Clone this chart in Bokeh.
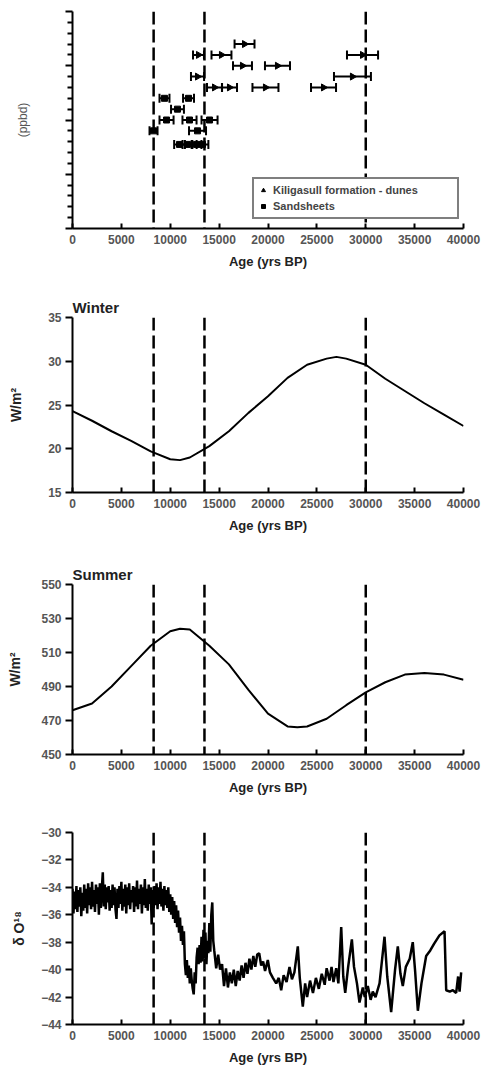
import math
from bokeh.plotting import figure
from bokeh.layouts import column
from bokeh.models import (Range1d, FixedTicker, Span, Whisker, TeeHead, ColumnDataSource,
                          Legend, LegendItem, CustomJSTickFormatter, Title)
from bokeh.embed import file_html
from bokeh.resources import INLINE

# ---------------- data ----------------
x_ticks = [0, 5000, 10000, 15000, 20000, 25000, 30000, 35000, 40000]
event_ages = [8300, 13500, 30000]

dune_age = [12890, 15240, 17600, 17390, 20970, 12790, 14530, 16060, 19740, 25680, 29670, 28640]
dune_err = [560, 1020, 1020, 970, 1280, 670, 770, 770, 1330, 1280, 1590, 1890]
dune_level = [16, 16, 17, 15, 15, 14, 13, 13, 13, 13, 16, 14]

sand_age = [9410, 11870, 10740, 9620, 11970, 14020, 8290, 12790, 10950, 11760, 12690, 13300]
sand_err = [510, 560, 660, 720, 720, 820, 410, 870, 550, 500, 500, 600]
sand_level = [12, 12, 11, 10, 10, 10, 9, 9, 7.75, 7.75, 7.75, 7.75]

winter_age = [0, 2000, 4000, 6000, 8000, 10000, 11000, 12000, 14000, 16000, 18000, 20000,
              22000, 24000, 26000, 27000, 28000, 30000, 32000, 34000, 36000, 38000, 40000]
winter_wm2 = [24.3, 23.2, 22.0, 20.9, 19.7, 18.8, 18.7, 19.0, 20.3, 22.0, 24.1, 26.0,
              28.1, 29.6, 30.3, 30.5, 30.3, 29.6, 28.0, 26.6, 25.2, 23.9, 22.6]

summer_age = [0, 2000, 4000, 6000, 8000, 10000, 11000, 12000, 14000, 16000, 18000, 20000,
              22000, 23000, 24000, 26000, 28000, 30000, 32000, 34000, 36000, 38000, 40000]
summer_wm2 = [476, 480, 490, 502, 514, 522.5, 524, 523.5, 514, 503, 488, 474,
              466.5, 466, 466.5, 471, 479, 486.5, 492.5, 497, 498, 497, 494]

d18o_age = [0, 100, 200, 300, 400, 500, 600, 700, 800, 900, 1000, 1100, 1200, 1300, 1400,
            1500, 1600, 1700, 1800, 1900, 2000, 2100, 2200, 2300, 2400, 2500, 2600, 2700,
            2800, 2900, 3000, 3100, 3200, 3300, 3400, 3500, 3600, 3700, 3800, 3900, 4000,
            4100, 4200, 4300, 4400, 4500, 4600, 4700, 4800, 4900, 5000, 5100, 5200, 5300,
            5400, 5500, 5600, 5700, 5800, 5900, 6000, 6100, 6200, 6300, 6400, 6500, 6600,
            6700, 6800, 6900, 7000, 7100, 7200, 7300, 7400, 7500, 7600, 7700, 7800, 7900,
            8000, 8100, 8200, 8300, 8400, 8500, 8600, 8700, 8800, 8900, 9000, 9100, 9200,
            9300, 9400, 9500, 9600, 9700, 9800, 9900, 10000, 10100, 10200, 10300, 10400,
            10500, 10600, 10700, 10800, 10900, 11000, 11100, 11200, 11300, 11400, 11500,
            11600, 11700, 11800, 11900, 12000, 12100, 12200, 12300, 12400, 12500, 12600,
            12700, 12800, 12900, 13000, 13100, 13200, 13300, 13400, 13500, 13600, 13700,
            13800, 13900, 14000, 14100, 14200, 14300, 14400, 14500,
            14700, 14900, 15100, 15300, 15500, 15700, 15900, 16100, 16300, 16500, 16700,
            16900, 17100, 17300, 17500, 17700, 17900, 18100, 18300, 18500, 18700, 18900,
            19100, 19300, 19500, 19700, 19980, 20200, 20500, 20840, 21100, 21350, 21600,
            21900, 22200, 22450, 22700, 23050, 23250, 23560, 23800, 24000, 24300, 24600,
            24900, 25200, 25500, 25800, 26000, 26300, 26500, 26700, 26980, 27200, 27490,
            27700, 27900, 28200, 28580, 28800, 29100, 29360, 29700, 29900, 30210, 30500,
            30720, 31000, 31410, 31920, 32200, 32600, 33000, 33280, 33550, 33790, 34100,
            34500, 34810, 35050, 35330, 35700, 36180, 36600, 37000, 37540, 38060, 38230,
            38600, 38910, 39250, 39450, 39600, 39760]
d18o_val = [-34.1, -35.9, -34.3, -35.6, -33.9, -35.8, -34.2, -35.4, -34.0, -36.1, -34.4,
            -35.7, -33.8, -35.5, -34.1, -35.9, -33.7, -35.3, -34.0, -35.6, -33.6, -35.4,
            -34.2, -35.8, -33.8, -35.2, -34.0, -36.0, -33.7, -35.5, -34.1, -32.9, -35.4,
            -33.8, -35.6, -34.0, -35.1, -33.9, -35.7, -34.2, -35.5, -33.8, -35.3, -34.0,
            -35.6, -36.3, -34.1, -35.5, -33.9, -35.2, -33.6, -35.7, -34.1, -35.4, -33.8,
            -35.9, -34.0, -35.3, -33.7, -35.6, -34.2, -35.1, -33.9, -35.8, -34.0, -35.4,
            -33.5, -35.6, -34.1, -35.2, -33.8, -35.9, -34.0, -35.3, -33.4, -35.5, -34.1,
            -35.7, -33.8, -35.2, -34.0, -36.7, -34.2, -35.5, -33.9, -35.3, -33.7, -35.6,
            -34.0, -35.2, -33.6, -35.4, -34.1, -35.7, -33.9, -35.3, -34.2, -35.5, -34.0,
            -35.8, -34.5, -36.0, -34.7, -36.3, -35.0, -36.6, -35.3, -36.9, -35.7, -37.3,
            -36.2, -37.9, -36.8, -38.2, -37.2, -39.6, -40.4, -39.3, -40.6, -39.7, -41.0,
            -39.9, -40.8, -41.4, -41.8, -40.2, -41.0, -39.1, -38.4, -39.6, -38.2, -39.5,
            -37.6, -39.4, -37.1, -39.2, -37.3, -39.6, -37.9, -38.8, -36.6, -38.7, -36.0,
            -35.1, -37.9, -38.6,
            -39.9, -38.9, -40.0, -39.6, -41.2, -39.9, -41.3, -40.2, -41.0, -40.0, -41.2,
            -40.1, -40.8, -39.7, -40.6, -39.5, -40.3, -39.2, -40.0, -39.0, -39.8, -38.9,
            -38.8, -39.7, -39.4, -40.1, -39.3, -40.2, -40.6, -41.0, -40.6, -41.5, -40.4,
            -40.9, -39.8, -40.7, -40.2, -38.3, -40.6, -42.7, -41.0, -42.0, -40.8, -41.7,
            -40.6, -41.4, -40.3, -41.1, -39.9, -40.8, -39.8, -40.9, -39.9, -41.0, -36.9,
            -40.5, -41.7, -39.8, -37.8, -39.8, -41.0, -42.4, -41.3, -42.0, -41.2, -42.2,
            -41.6, -42.0, -41.0, -37.6, -40.5, -43.1, -40.0, -38.3, -40.3, -41.2, -39.8,
            -39.2, -38.0, -40.1, -43.0, -41.0, -39.0, -38.6, -38.1, -37.5, -37.2, -41.5,
            -41.6, -41.5, -41.7, -40.5, -41.6, -40.2]

dates_ticks = [0, 5, 10, 15, 20]
dates_minor = [1, 2, 3, 4, 6, 7, 8, 9, 11, 12, 13, 14, 16, 17, 18, 19]
winter_ticks = [15, 20, 25, 30, 35]
summer_ticks = [450, 470, 490, 510, 530, 550]
d18o_ticks = [-44, -42, -40, -38, -36, -34, -32, -30]

FONT = "Liberation Sans"


def make_fig(ylo, yhi, yticks, ylabel, frame_h, top, bottom, lstand, title=None, minor=None):
    f = figure(frame_width=391, frame_height=frame_h,
               x_range=Range1d(0, 40000), y_range=Range1d(ylo, yhi),
               output_backend="svg", toolbar_location=None,
               min_border_left=72, min_border_right=28,
               min_border_top=top, min_border_bottom=bottom)
    if title is not None:
        f.title = Title(text=title, align="left", text_font=FONT, text_font_size="15px",
                        text_font_style="bold", text_color="#222222", standoff=3)
    else:
        f.title.visible = False
    f.outline_line_color = None
    f.xgrid.visible = False
    f.ygrid.visible = False
    f.background_fill_color = "white"
    f.border_fill_color = "white"

    xa = f.xaxis[0]
    xa.ticker = FixedTicker(ticks=x_ticks)
    xa.axis_label = "Age (yrs BP)"
    xa.axis_line_width = 2
    xa.major_tick_line_width = 2
    xa.major_tick_in = 5
    xa.major_tick_out = 0
    xa.minor_tick_line_color = None
    xa.major_label_standoff = 6
    xa.major_label_text_font = FONT
    xa.major_label_text_font_size = "12px"
    xa.major_label_text_font_style = "bold"
    xa.major_label_text_color = "#555555"
    xa.axis_label_standoff = 7
    xa.axis_label_text_font = FONT
    xa.axis_label_text_font_size = "13px"
    xa.axis_label_text_font_style = "bold"
    xa.axis_label_text_color = "#222222"

    ya = f.yaxis[0]
    if minor is not None:
        ya.ticker = FixedTicker(ticks=yticks, minor_ticks=minor)
        ya.formatter = CustomJSTickFormatter(code="return ''")
        ya.minor_tick_line_width = 2
        ya.minor_tick_out = 5
        ya.minor_tick_in = 0
    else:
        ya.ticker = FixedTicker(ticks=yticks)
        ya.minor_tick_line_color = None
    ya.axis_label = ylabel
    ya.axis_line_width = 2
    ya.major_tick_line_width = 2
    ya.major_tick_out = 7
    ya.major_tick_in = 0
    ya.major_label_standoff = 4
    ya.major_label_text_font = FONT
    ya.major_label_text_font_size = "12px"
    ya.major_label_text_font_style = "bold"
    ya.major_label_text_color = "#555555"
    ya.axis_label_standoff = lstand
    ya.axis_label_text_font = FONT
    if minor is not None:
        ya.axis_label_text_font_size = "12px"
        ya.axis_label_text_font_style = "normal"
        ya.axis_label_text_color = "#555555"
    else:
        ya.axis_label_text_font_size = "14px"
        ya.axis_label_text_font_style = "bold"
        ya.axis_label_text_color = "#222222"

    for a in event_ages:
        f.add_layout(Span(location=a, dimension="height", line_color="black",
                          line_width=2.5, line_dash="13 5"))
    return f


# ---- panel 1: dates ----
p1 = make_fig(0, 20, dates_ticks, "(ppbd)", 217, 11, 55, 36, minor=dates_minor)
src_d = ColumnDataSource(dict(age=dune_age, lvl=dune_level,
                              lo=[a - e for a, e in zip(dune_age, dune_err)],
                              hi=[a + e for a, e in zip(dune_age, dune_err)]))
src_s = ColumnDataSource(dict(age=sand_age, lvl=sand_level,
                              lo=[a - e for a, e in zip(sand_age, sand_err)],
                              hi=[a + e for a, e in zip(sand_age, sand_err)]))
for src in (src_d, src_s):
    p1.add_layout(Whisker(source=src, base="lvl", lower="lo", upper="hi", dimension="width",
                          line_width=2, line_color="black",
                          upper_head=TeeHead(size=9, line_width=2, line_color="black"),
                          lower_head=TeeHead(size=9, line_width=2, line_color="black")))
r_dune = p1.scatter("age", "lvl", source=src_d, marker="triangle",
                    angle=-math.pi / 2, size=7, color="black")
r_sand = p1.scatter("age", "lvl", source=src_s, marker="square", size=6, color="black")

legend = Legend(items=[LegendItem(label="Kiligasull formation - dunes", renderers=[r_dune]),
                       LegendItem(label="Sandsheets", renderers=[r_sand])],
                location=(180, 9), orientation="vertical")
legend.border_line_color = "black"
legend.border_line_width = 2
legend.background_fill_color = "white"
legend.background_fill_alpha = 1
legend.label_text_font = FONT
legend.label_text_font_size = "11px"
legend.label_text_font_style = "bold"
legend.label_text_color = "#444444"
legend.glyph_width = 10
legend.glyph_height = 10
legend.label_standoff = 5
legend.label_height = 14
legend.label_width = 180
legend.padding = 4
legend.spacing = 2
legend.margin = 0
p1.add_layout(legend)

# ---- panel 2: winter ----
p2 = make_fig(15, 35, winter_ticks, "W/m\u00b2", 175, 34, 55, 21, title="Winter")
p2.line(winter_age, winter_wm2, line_width=2, color="black")

# ---- panel 3: summer ----
p3 = make_fig(450, 550, summer_ticks, "W/m\u00b2", 170, 37, 50, 15, title="Summer")
p3.line(summer_age, summer_wm2, line_width=2, color="black")

# ---- panel 4: d18O ----
p4 = make_fig(-44, -30, d18o_ticks, "\u03b4 O\u00b9\u2078", 192, 28, 41, 11)
p4.line(d18o_age, d18o_val, line_width=2.5, color="black")

layout = column(p1, p2, p3, p4)
open("out.html", "w").write(file_html(layout, INLINE))
